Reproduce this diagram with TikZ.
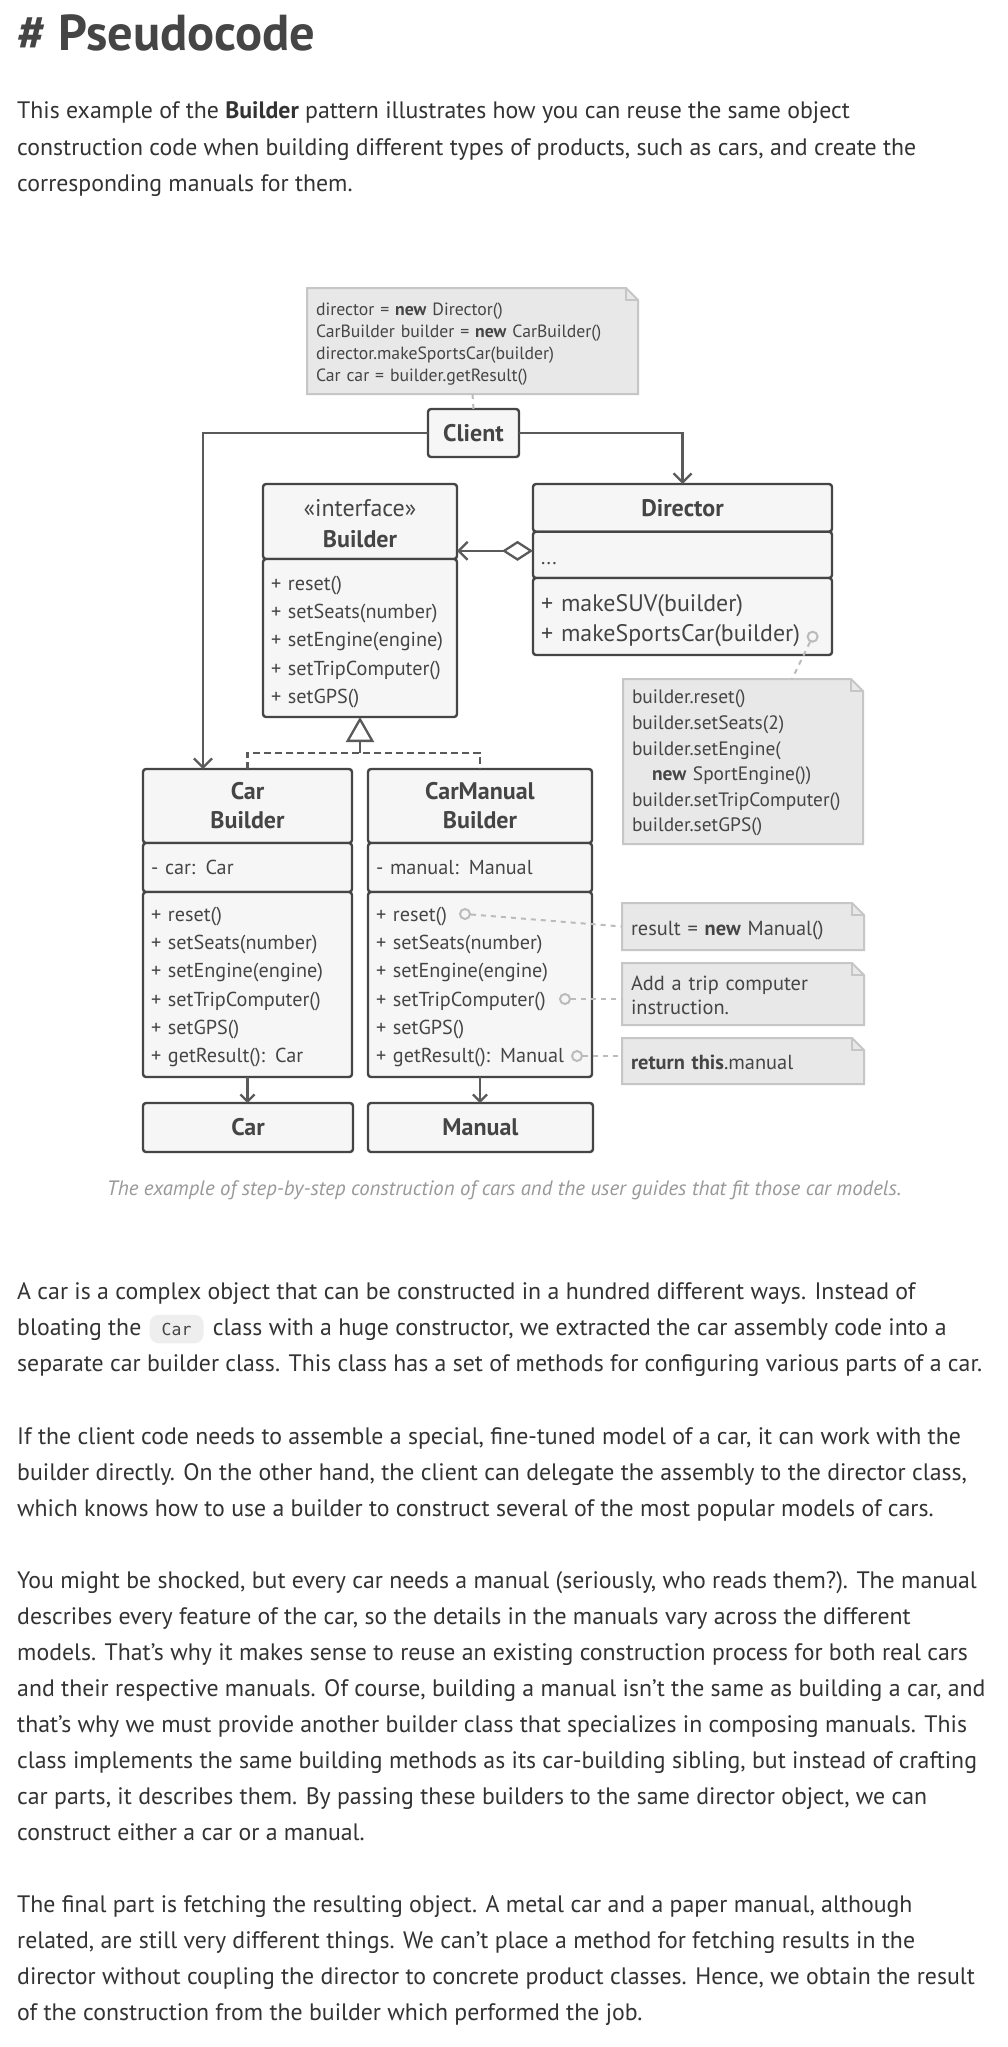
\documentclass[tikz,border=0pt]{standalone}
\usepackage{fontspec}
\setmainfont{PT Sans}
\setmonofont{DejaVu Sans Mono}
\usetikzlibrary{arrows.meta,calc}
\pgfdeclarelayer{bg}
\pgfsetlayers{bg,main}
\definecolor{ink}{HTML}{454545}
\definecolor{lineink}{HTML}{5A5A5A}
\definecolor{bodytxt}{HTML}{333333}
\definecolor{boxfill}{HTML}{F6F6F6}
\definecolor{notefill}{HTML}{E8E8E8}
\definecolor{noteline}{HTML}{C6C6C6}
\definecolor{portgray}{HTML}{BBBBBB}
\definecolor{capgray}{HTML}{999999}
\definecolor{codefill}{HTML}{EEEEEE}
\newcommand{\fs}[2]{\fontsize{#1}{#2}\selectfont}
\newcommand{\tp}[1]{\rule{0pt}{#1pt}}
\newcommand{\notebg}[1]{%
 \begin{pgfonlayer}{bg}
 \filldraw[fill=notefill, draw=noteline, line width=2pt, line join=miter] (#1.north west) -- ([xshift=-12pt]#1.north east) -- ([yshift=-12pt]#1.north east) -- (#1.south east) -- (#1.south west) -- cycle;
 \draw[draw=noteline, line width=2pt] ([xshift=-12pt]#1.north east) |- ([yshift=-12pt]#1.north east);
 \end{pgfonlayer}}
\tikzset{
 comp/.style={draw=ink, line width=2.4pt, fill=boxfill, rounded corners=3pt, inner ysep=0pt, inner xsep=8pt, anchor=north west, text=ink, outer sep=0pt},
 hdr/.style={comp, align=center, font=\fs{24}{29}\bfseries},
 mth/.style={comp, align=left, font=\fs{20.2}{28.3}},
 notetxt/.style={anchor=north west, inner ysep=0pt, inner xsep=9pt, align=left, text=ink, outer sep=0pt},
 conn/.style={draw=lineink, line width=2.3pt},
 barb/.style={-{Straight Barb[length=9pt,width=18pt]}},
 impl/.style={draw=lineink, line width=2.3pt, dash pattern=on 7pt off 4pt},
 noteconn/.style={draw=portgray, line width=2pt, dash pattern=on 5pt off 5pt},
 port/.style={circle, draw=portgray, line width=2pt, fill=boxfill, minimum size=10pt, inner sep=0pt},
 body/.style={anchor=base west, inner sep=0pt, text=bodytxt, font=\fs{23.8}{36}},
}
\begin{document}
\begin{tikzpicture}[x=1pt, y=-1pt]
\useasboundingbox (0,0) rectangle (1007,2047);
\begin{pgfonlayer}{bg}
\fill[white] (0,0) rectangle (1007,2047);
\end{pgfonlayer}

% title and intro
\node[anchor=base west, inner sep=0pt, font=\fs{50.5}{56}\bfseries, text=ink] (title) at (17,51) {\# Pseudocode};
\node[body] (i1) at (17,119) {This example of the \textbf{Builder} pattern illustrates how you can reuse the same object};
\node[body] (i2) at (17,155) {construction code when building different types of products, such as cars, and create the};
\node[body] (i3) at (17,191) {corresponding manuals for them.};

% client note
\node[notetxt, minimum width=331pt, minimum height=106pt, text width=313pt, font=\fs{17.7}{22}] (n1) at (307,288) {\tp{18.5}director = \textbf{new} Director()\\CarBuilder builder = \textbf{new} CarBuilder()\\director.makeSportsCar(builder)\\Car car = builder.getResult()};
\notebg{n1}

% client
\node[comp, anchor=center, minimum width=91pt, minimum height=48pt, font=\fs{24}{28}\bfseries] (client) at (473.5,433) {Client};

% builder interface
\node[hdr, minimum width=194pt, minimum height=75pt, font=\fs{24}{31}\bfseries] (bH) at (263,484) {{\mdseries \tp{21}«interface»}\\Builder};
\node[mth, minimum width=194pt, minimum height=158pt, text width=178pt] (bM) at (263,559) {\tp{22}+ reset()\\+ setSeats(number)\\+ setEngine(engine)\\+ setTripComputer()\\+ setGPS()};

% director
\node[hdr, minimum width=299pt, minimum height=47.7pt] (dH) at (533,484) {Director};
\node[mth, minimum width=299pt, minimum height=46.3pt, text width=283pt] (dA) at (533,531.7) {\strut\tp{26.8}...};
\node[mth, minimum width=299pt, minimum height=77pt, text width=283pt, font=\fs{23.9}{30}] (dM) at (533,578) {\tp{25.5}+ makeSUV(builder)\\+ makeSportsCar(builder)};

% director note
\node[notetxt, minimum width=240pt, minimum height=165pt, text width=222pt, font=\fs{19.4}{25.6}] (n2) at (623,679) {\tp{17.2}builder.reset()\\builder.setSeats(2)\\builder.setEngine(\\\hspace*{20pt}\textbf{new} SportEngine())\\builder.setTripComputer()\\builder.setGPS()};
\notebg{n2}

% car builder
\node[hdr, minimum width=209pt, minimum height=74pt] (cbH) at (143,769) {Car\\Builder};
\node[mth, minimum width=209pt, minimum height=49pt, text width=193pt] (cbA) at (143,843) {- car: Car};
\node[mth, minimum width=209pt, minimum height=185pt, text width=193pt] (cbM) at (143,892) {\tp{19.5}+ reset()\\+ setSeats(number)\\+ setEngine(engine)\\+ setTripComputer()\\+ setGPS()\\+ getResult(): Car};

% car manual builder
\node[hdr, minimum width=224pt, minimum height=74pt] (cmH) at (368,769) {CarManual\\Builder};
\node[mth, minimum width=224pt, minimum height=49pt, text width=208pt] (cmA) at (368,843) {- manual: Manual};
\node[mth, minimum width=224pt, minimum height=185pt, text width=208pt] (cmM) at (368,892) {\tp{19.5}+ reset()\\+ setSeats(number)\\+ setEngine(engine)\\+ setTripComputer()\\+ setGPS()\\+ getResult(): Manual};

% products
\node[hdr, minimum width=210pt, minimum height=49pt] (car) at (143,1103) {Car};
\node[hdr, minimum width=225pt, minimum height=49pt] (manual) at (368,1103) {Manual};

% right notes
\node[notetxt, minimum width=242pt, minimum height=47pt, text width=224pt, font=\fs{20.4}{23.7}] (n3) at (622,903) {\tp{23}result = \textbf{new} Manual()};
\notebg{n3}
\node[notetxt, minimum width=242pt, minimum height=62pt, text width=224pt, font=\fs{20.4}{23.7}] (n4) at (622,963) {\tp{17}Add a trip computer\\instruction.};
\notebg{n4}
\node[notetxt, minimum width=242pt, minimum height=46pt, text width=224pt, font=\fs{20.4}{23.7}] (n5) at (622,1038) {\tp{17.5}\textbf{return this}.manual};
\notebg{n5}

% ports
\node[port] (p0) at (812.6,636.7) {};
\node[port] (p1) at (465,914) {};
\node[port] (p2) at (565,999) {};
\node[port] (p3) at (577,1056) {};

% note connectors
\draw[noteconn] (n1.south) -- (client.north);
\draw[noteconn] (p0) -- ([xshift=49pt]n2.north);
\draw[noteconn] (p1) -- (n3.west);
\draw[noteconn] (p2) -- (n4.west |- p2);
\draw[noteconn] (p3) -- (n5.west |- p3);

% client associations
\draw[conn, barb] (client.west) -| ([xshift=-44.5pt]cbH.north);
\draw[conn, barb] (client.east) -| (dH.north);

% aggregation
\draw[conn, {Diamond[open, length=31pt, width=20pt, fill=white]}-{Straight Barb[length=9pt,width=18pt]}] ([yshift=4pt]dA.west) -- ([yshift=4pt]dA.west -| bH.east);

% implementation
\coordinate (jn) at (360,752.7);
\draw[impl] (cbH.north) -- (cbH.north |- jn) -- (cmH.north |- jn) -- (cmH.north);
\draw[conn, -{Triangle[open, length=25pt, width=28pt, fill=white]}] (jn) -- (bM.south);

% products
\draw[conn, -{Straight Barb[length=7pt,width=14pt]}] (cbM.south) -- (cbM.south |- car.north);
\draw[conn, -{Straight Barb[length=7pt,width=14pt]}] (cmM.south) -- (cmM.south |- manual.north);

% caption
\node[anchor=base, inner sep=0pt, font=\fs{20.8}{24}\itshape, text=capgray] (cap) at (504,1195) {The example of step-by-step construction of cars and the user guides that fit those car models.};

% paragraph A
\node[body] (a1) at (17,1299) {A car is a complex object that can be constructed in a hundred different ways. Instead of};
\node[body] (a2) at (17,1335) {bloating the};
\node[anchor=base west, fill=codefill, rounded corners=9pt, inner xsep=12pt, inner ysep=8pt, text=ink, font=\ttfamily\fs{16.5}{18}] (code) at ([xshift=8pt]a2.base east) {Car};
\node[body] (a2b) at ([xshift=9pt]code.base east) {class with a huge constructor, we extracted the car assembly code into a};
\node[body] (a3) at (17,1371) {separate car builder class. This class has a set of methods for configuring various parts of a car.};

% paragraph B
\node[body] (b1) at (17,1444) {If the client code needs to assemble a special, fine-tuned model of a car, it can work with the};
\node[body] (b2) at (17,1480) {builder directly. On the other hand, the client can delegate the assembly to the director class,};
\node[body] (b3) at (17,1516) {which knows how to use a builder to construct several of the most popular models of cars.};

% paragraph C
\node[body] (c1) at (17,1588) {You might be shocked, but every car needs a manual (seriously, who reads them?). The manual};
\node[body] (c2) at (17,1624) {describes every feature of the car, so the details in the manuals vary across the different};
\node[body] (c3) at (17,1660) {models. That’s why it makes sense to reuse an existing construction process for both real cars};
\node[body] (c4) at (17,1696) {and their respective manuals. Of course, building a manual isn’t the same as building a car, and};
\node[body] (c5) at (17,1732) {that’s why we must provide another builder class that specializes in composing manuals. This};
\node[body] (c6) at (17,1768) {class implements the same building methods as its car-building sibling, but instead of crafting};
\node[body] (c7) at (17,1804) {car parts, it describes them. By passing these builders to the same director object, we can};
\node[body] (c8) at (17,1840) {construct either a car or a manual.};

% paragraph D
\node[body] (d1) at (17,1912) {The final part is fetching the resulting object. A metal car and a paper manual, although};
\node[body] (d2) at (17,1948) {related, are still very different things. We can’t place a method for fetching results in the};
\node[body] (d3) at (17,1984) {director without coupling the director to concrete product classes. Hence, we obtain the result};
\node[body] (d4) at (17,2020) {of the construction from the builder which performed the job.};
\end{tikzpicture}
\end{document}
